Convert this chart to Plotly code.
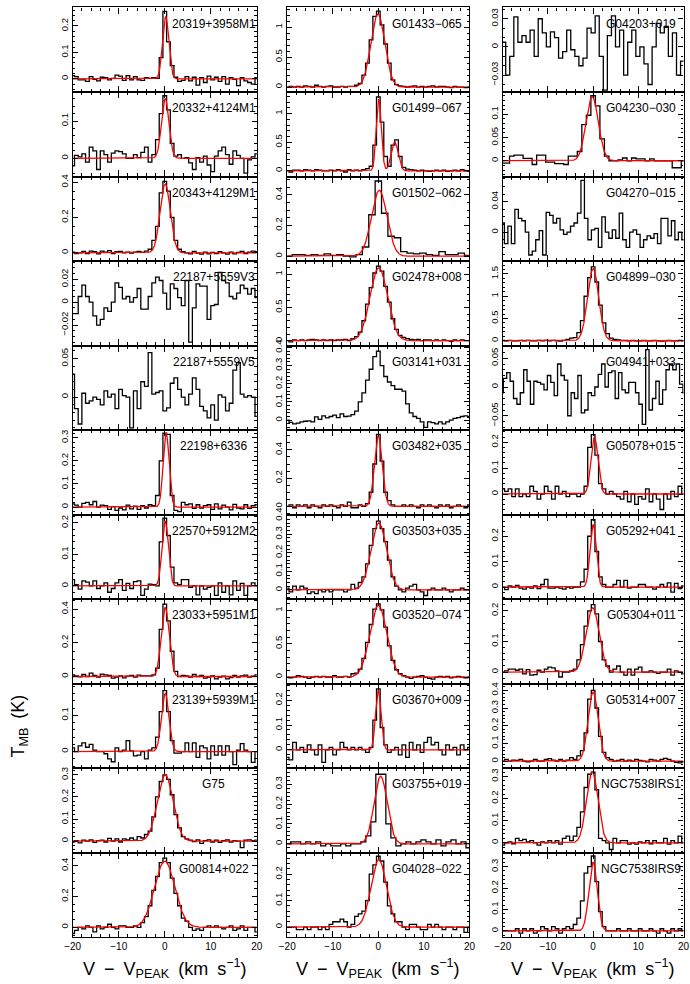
import numpy as np
import plotly.graph_objects as go

# ---------------- spectra (T_MB in K, channels centred on V - V_peak = 0) ----------------
# 0.8 km/s channels unless stated otherwise in PANELS

S_20319_3958M1 = [0.012, 0.008, -0.004, -0.004, -0.010, 0.008, -0.002, -0.008, 0.006, 0.004,
                  -0.004, 0.002, 0.014, 0.010, -0.006, 0.012, -0.004, 0.008, -0.004, -0.006,
                  0.004, 0.002, 0.004, 0.002, 0.080, 0.255, 0.140, 0.050, 0.006, -0.010, -0.006,
                  0.008, -0.008, 0.006, -0.024, 0.004, -0.014, 0.010, -0.004, 0.006, -0.010,
                  0.008, -0.020, 0.004, -0.002, -0.026, 0.004, -0.008, -0.014, -0.020, 0.004]
S_20332_4124M1 = [-0.020, 0.008, 0.004, 0.012, -0.010, 0.030, 0.020, -0.030, 0.020, 0.010,
                  -0.010, 0.014, 0.020, 0.018, 0.012, 0.000, 0.000, 0.010, 0.002, 0.016,
                  0.030, -0.010, 0.010, 0.050, 0.120, 0.168, 0.130, 0.040, 0.006, 0.010, 0.000,
                  0.002, -0.012, -0.030, 0.002, -0.010, 0.006, -0.018, -0.036, 0.006, 0.020,
                  0.030, 0.010, -0.016, 0.020, 0.008, 0.000, -0.040, -0.004, 0.004, 0.012]
S_20343_4129M1 = [0.004, -0.004, 0.000, 0.008, -0.004, 0.010, 0.006, -0.006, 0.010, 0.004,
                  0.012, -0.004, 0.006, 0.008, 0.000, 0.004, -0.002, 0.004, 0.008, 0.002,
                  0.010, 0.020, 0.070, 0.150, 0.340, 0.405, 0.350, 0.200, 0.070, 0.020, 0.006,
                  0.000, -0.006, 0.008, -0.002, -0.008, 0.004, -0.006, 0.002, -0.004, 0.006,
                  0.000, -0.008, 0.004, -0.006, 0.002, 0.008, -0.004, 0.004, 0.010, 0.006]
S_22187_5559V3 = [-0.010, -0.010, 0.005, 0.015, 0.005, 0.000, -0.012, -0.020, -0.015, -0.005,
                  -0.008, 0.000, 0.017, 0.013, 0.003, 0.005, 0.000, 0.004, 0.012, -0.006,
                  -0.006, 0.005, 0.017, 0.022, 0.019, 0.008, -0.006, 0.016, 0.012, 0.004, -0.003,
                  0.019, -0.035, -0.005, 0.016, 0.014, 0.014, -0.015, -0.003, -0.002, 0.026,
                  0.019, 0.017, 0.005, 0.003, 0.008, 0.015, 0.012, 0.007, 0.012, 0.004]
S_22187_5559V5 = [0.030, -0.015, -0.035, 0.005, -0.008, -0.005, 0.000, -0.003, -0.010, 0.008,
                  0.000, 0.004, -0.015, 0.010, 0.002, 0.000, -0.040, 0.008, -0.015, 0.020,
                  0.014, 0.058, 0.004, 0.006, 0.008, -0.018, -0.014, 0.018, 0.025, 0.010, 0.000,
                  -0.010, 0.004, 0.025, 0.010, -0.012, -0.018, -0.027, -0.010, -0.030, 0.003,
                  0.000, -0.018, -0.008, 0.035, 0.045, 0.004, 0.000, 0.002, 0.000, -0.025]
S_22198_6336 = [0.014, 0.008, 0.000, 0.016, 0.020, 0.010, 0.024, 0.000, 0.008, 0.006,
                -0.010, 0.002, -0.014, -0.004, -0.012, 0.008, -0.008, 0.004, -0.010, 0.006,
                -0.004, 0.010, 0.006, 0.050, 0.200, 0.320, 0.315, 0.050, -0.014, -0.020, 0.020,
                0.010, 0.014, -0.006, 0.010, -0.004, 0.006, 0.010, -0.010, 0.014, -0.008,
                0.008, 0.000, -0.012, 0.012, -0.004, -0.008, 0.010, -0.006, 0.006, 0.010]
S_22570_5912M2 = [0.020, 0.004, -0.010, 0.016, 0.012, 0.000, 0.016, -0.008, 0.000, 0.010,
                  -0.020, -0.008, 0.010, 0.020, -0.014, 0.008, -0.008, 0.014, 0.016, -0.030,
                  -0.010, 0.006, 0.004, 0.000, 0.140, 0.215, 0.160, 0.060, 0.010, 0.004, 0.020,
                  0.020, -0.004, 0.000, -0.028, 0.000, -0.010, -0.004, 0.000, -0.030, 0.010,
                  -0.020, 0.000, -0.028, 0.016, -0.014, 0.008, -0.030, 0.000, 0.010, 0.000]
S_23033_5951M1 = [0.010, 0.004, -0.002, 0.012, 0.000, 0.020, 0.006, -0.004, 0.014, 0.010,
                  0.006, -0.010, -0.004, 0.004, -0.008, 0.002, 0.006, -0.004, 0.008, 0.004,
                  0.004, 0.004, 0.010, 0.050, 0.280, 0.430, 0.330, 0.150, 0.030, 0.000, 0.006,
                  0.004, -0.004, 0.012, 0.000, 0.006, -0.010, -0.004, 0.004, -0.014, -0.004,
                  0.002, -0.014, -0.006, 0.006, -0.004, 0.004, 0.008, -0.004, 0.002, 0.010]
S_23139_5939M1 = [0.010, 0.000, 0.016, 0.024, 0.012, 0.020, 0.004, 0.000, 0.000, -0.006,
                  -0.020, -0.028, 0.010, 0.000, 0.004, 0.030, 0.002, -0.012, -0.010, 0.000,
                  -0.020, 0.004, 0.010, 0.040, 0.110, 0.168, 0.110, 0.030, -0.004, -0.004, 0.000,
                  0.024, 0.000, 0.024, -0.016, 0.016, 0.010, -0.020, 0.016, -0.010, 0.016,
                  -0.010, 0.016, 0.000, -0.036, 0.004, 0.022, 0.004, 0.000, -0.030, 0.000]
S_G75 = [-0.004, 0.002, -0.008, 0.004, 0.000, 0.006, -0.006, 0.002, 0.004, -0.004,
         0.012, 0.000, 0.010, -0.004, 0.010, 0.006, 0.014, 0.004, 0.020, 0.014,
         0.030, 0.045, 0.110, 0.200, 0.270, 0.300, 0.280, 0.210, 0.120, 0.060, 0.020,
         0.010, 0.004, -0.002, 0.006, -0.010, 0.002, 0.006, -0.004, 0.004, -0.006,
         0.002, 0.006, -0.004, 0.002, 0.000, -0.030, 0.004, 0.006, 0.002, 0.004]
S_G00814_022 = [-0.040, -0.020, 0.000, -0.010, 0.010, 0.000, -0.030, 0.010, -0.010, 0.000,
                0.020, 0.000, -0.010, 0.010, 0.010, 0.000, 0.000, 0.010, 0.000, 0.030,
                0.070, 0.140, 0.240, 0.330, 0.420, 0.450, 0.420, 0.320, 0.220, 0.140, 0.060,
                0.040, 0.000, -0.020, -0.010, -0.020, 0.000, 0.010, 0.000, 0.010, 0.000,
                -0.010, 0.000, 0.010, -0.020, -0.010, 0.010, -0.020, 0.000, 0.000, -0.030]

S_G01433_065 = [0.000, 0.010, 0.000, 0.010, 0.000, 0.020, 0.010, 0.000, 0.030, 0.010,
                0.000, 0.010, 0.020, 0.000, 0.000, 0.010, 0.000, 0.010, 0.010, 0.030,
                0.060, 0.200, 0.400, 0.790, 1.180, 1.270, 1.040, 0.720, 0.400, 0.120, 0.040,
                0.020, 0.010, 0.000, 0.010, 0.020, 0.000, 0.010, 0.000, 0.010, 0.020,
                0.000, 0.010, 0.010, 0.000, -0.010, 0.010, 0.000, 0.000, -0.010, 0.000]
S_G01499_067 = [0.000, -0.020, 0.010, 0.010, 0.000, 0.020, 0.010, 0.000, 0.020, 0.010,
                0.000, 0.000, 0.010, 0.000, 0.020, 0.000, -0.020, 0.020, 0.000, 0.010,
                0.000, 0.020, 0.040, 0.080, 0.450, 1.290, 0.850, 0.250, 0.080, 0.450, 0.540,
                0.250, 0.060, 0.030, 0.020, 0.010, 0.000, 0.010, 0.000, -0.010, 0.000,
                0.010, 0.000, 0.010, -0.010, 0.000, 0.010, 0.000, 0.020, 0.000, -0.010]
# 1.4 km/s channels
S_G01502_062 = [0.000, 0.010, 0.010, 0.005, 0.010, 0.005, 0.015, 0.005, 0.010, 0.000,
                -0.005, 0.010, 0.060, 0.270, 0.490, 0.280, 0.130, 0.120, 0.030, 0.020,
                0.015, 0.020, 0.010, 0.005, 0.030, 0.010, 0.010, 0.020, 0.005]
S_G02478_008 = [0.000, -0.020, 0.010, 0.000, 0.010, 0.000, 0.010, 0.020, 0.010, 0.000,
                0.010, 0.000, 0.010, 0.000, 0.010, 0.010, 0.020, 0.000, 0.030, 0.060,
                0.130, 0.300, 0.550, 0.800, 1.020, 1.125, 1.050, 0.820, 0.580, 0.330, 0.170,
                0.080, 0.050, 0.030, 0.020, 0.010, 0.020, 0.000, 0.010, 0.010, 0.000,
                0.010, 0.000, 0.010, 0.000, -0.010, 0.010, 0.000, 0.010, 0.000, 0.000]
S_G03141_031 = [0.000, -0.012, -0.020, -0.016, -0.010, -0.006, -0.004, -0.010, 0.018, 0.004,
                0.024, 0.012, 0.020, 0.028, 0.014, 0.034, 0.020, 0.022, 0.030, 0.050,
                0.100, 0.150, 0.220, 0.280, 0.350, 0.380, 0.300, 0.240, 0.210, 0.190, 0.170,
                0.170, 0.160, 0.090, 0.040, 0.020, 0.010, -0.010, -0.040, -0.010, -0.014,
                -0.020, -0.010, -0.020, -0.010, 0.000, 0.010, 0.014, 0.020, 0.024, 0.016]
S_G03482_035 = [0.000, 0.010, -0.010, 0.010, 0.000, 0.010, -0.010, 0.010, 0.000, -0.010,
                0.010, 0.000, 0.010, 0.000, -0.010, 0.010, 0.000, 0.030, -0.010, -0.010,
                0.010, 0.000, 0.020, 0.100, 0.300, 0.510, 0.320, 0.100, 0.040, 0.010, 0.000,
                0.000, 0.010, 0.000, 0.010, 0.000, -0.010, 0.010, 0.000, 0.010, 0.000,
                -0.010, 0.010, 0.000, 0.010, -0.010, 0.000, 0.010, 0.000, -0.010, 0.010]
S_G03503_035 = [0.010, -0.010, 0.020, 0.000, 0.020, 0.010, -0.020, -0.010, -0.020, 0.000,
                -0.010, 0.000, -0.010, 0.000, 0.000, 0.000, -0.010, 0.000, 0.030, 0.010,
                0.040, 0.070, 0.140, 0.240, 0.330, 0.370, 0.330, 0.260, 0.160, 0.070, 0.020,
                0.000, -0.010, 0.010, 0.020, 0.030, 0.000, -0.010, -0.030, 0.000, 0.010,
                0.000, 0.000, 0.010, 0.000, -0.010, 0.000, 0.000, 0.010, 0.000, 0.000]
S_G03520_074 = [0.000, -0.010, 0.000, 0.020, 0.010, 0.000, -0.020, 0.000, 0.010, 0.000,
                0.010, 0.000, 0.000, 0.020, 0.000, 0.000, 0.010, 0.000, 0.050, 0.060,
                0.120, 0.280, 0.520, 0.790, 1.020, 1.100, 1.010, 0.750, 0.470, 0.250, 0.110,
                0.050, 0.020, 0.000, -0.020, 0.000, 0.010, 0.020, 0.000, -0.020, -0.030,
                0.000, 0.010, 0.000, 0.010, -0.010, 0.000, 0.010, 0.000, -0.010, 0.000]
S_G03670_009 = [-0.030, -0.040, 0.030, 0.000, 0.010, -0.010, 0.020, 0.000, -0.020, 0.020,
                -0.050, 0.000, 0.010, -0.020, 0.000, 0.030, 0.010, 0.000, 0.010, 0.000,
                0.010, 0.000, -0.010, 0.010, 0.120, 0.245, 0.090, 0.020, -0.010, 0.000, 0.010,
                -0.020, 0.020, -0.030, 0.030, 0.000, 0.020, -0.010, 0.030, 0.050, 0.020,
                0.030, 0.000, -0.020, 0.020, 0.000, 0.010, -0.020, 0.020, 0.000, 0.010]
# 1.1 km/s channels
S_G03755_019 = [0.000, 0.010, 0.010, 0.000, 0.010, 0.000, 0.010, -0.010, 0.000, -0.010,
                -0.010, 0.000, -0.010, 0.000, 0.000, 0.010, 0.040, 0.110,
                0.350,
                0.350, 0.100, 0.030, -0.010, 0.000, 0.010, 0.000, 0.010,
                0.020, 0.010, 0.000, 0.020, -0.010, 0.010, 0.020, 0.000, 0.010, -0.020]
S_G04028_022 = [0.000, 0.000, 0.000, -0.010, -0.010, 0.000, -0.010, 0.000, 0.000, -0.010,
                0.000, -0.010, 0.010, 0.020, 0.020, 0.030, 0.020, 0.000, 0.010, 0.040,
                0.050, 0.060, 0.100, 0.200, 0.235, 0.268, 0.250, 0.170, 0.080, 0.050, 0.020,
                0.020, 0.000, -0.010, 0.010, 0.010, 0.000, -0.010, -0.010, 0.010, 0.000,
                0.010, 0.000, -0.010, 0.000, 0.000, -0.010, 0.000, 0.000, -0.020, 0.000]

# 0.9 km/s channels
S_G04203_019 = [0.005, -0.030, -0.010, 0.032, 0.005, 0.012, 0.005, 0.018, -0.010, 0.030,
                0.015, 0.000, 0.016, 0.010, -0.012, -0.005, 0.018, -0.003, -0.010, -0.020,
                -0.012, 0.020, 0.015, 0.033, -0.010, -0.046, 0.012, 0.033, 0.000, 0.018,
                -0.030, 0.005, 0.018, -0.010, 0.000, -0.018, -0.040, 0.000, 0.025, 0.015,
                0.022, -0.010, 0.015, -0.030, -0.015]
# 1.0 km/s channels
S_G04230_030 = [-0.005, -0.005, 0.010, 0.012, 0.012, 0.005, 0.005, -0.008, 0.012, 0.012,
                -0.003, -0.003, -0.006, -0.006, -0.008, 0.010, 0.010, 0.020, 0.078, 0.098,
                0.140,
                0.118, 0.047, 0.010, 0.000, 0.000, 0.002, 0.006, 0.000, 0.006, 0.004,
                0.004, 0.000, 0.004, 0.000, 0.000, 0.000, 0.000, -0.015, -0.015, 0.000]
# 0.77 km/s channels
S_G04270_015 = [0.012, -0.015, 0.008, -0.015, 0.030, 0.018, 0.015, 0.000, -0.030, -0.025,
                -0.010, 0.002, -0.030, 0.026, 0.022, 0.012, 0.018, 0.003, -0.003, 0.000,
                0.008, 0.012, 0.025, 0.068, 0.018, -0.010, 0.003, 0.005, -0.020, 0.020,
                0.000, -0.008, 0.003, -0.008, 0.025, -0.010, -0.020, 0.000, 0.003, -0.003,
                -0.020, -0.010, -0.005, -0.008, -0.002, -0.015, 0.018, 0.018, -0.005, 0.015,
                -0.010, 0.000, -0.010]
S_G04899_030 = [0.010, 0.000, 0.010, 0.000, 0.000, 0.010, 0.000, 0.010, 0.000, 0.000,
                0.010, 0.000, 0.010, 0.000, 0.010, 0.000, -0.010, 0.010, 0.030, 0.060,
                0.070, 0.180, 0.450, 1.000, 1.420, 1.660, 1.320, 0.800, 0.400, 0.160, 0.060,
                0.030, 0.020, 0.010, 0.010, 0.000, 0.010, 0.000, 0.000, 0.010, 0.000,
                0.000, 0.010, 0.000, -0.010, 0.000, 0.010, 0.000, 0.000, 0.010, 0.000]
# 0.75 km/s channels
S_G04941_033 = [-0.010, 0.015, 0.025, 0.010, -0.020, -0.030, -0.010, 0.030, 0.010, -0.030,
                0.010, 0.008, 0.005, -0.005, 0.020, 0.008, -0.015, 0.040, 0.020, 0.012,
                -0.050, -0.010, -0.020, 0.020, -0.045, -0.040, -0.010, -0.015, 0.000, 0.022,
                0.040, 0.000, 0.025, 0.028, -0.020, 0.025, -0.005, -0.010, 0.008, 0.008,
                -0.010, -0.030, -0.065, 0.065, -0.040, -0.020, 0.010, -0.030, -0.005, 0.030,
                0.040, 0.030, 0.040, 0.005, -0.010]
S_G05078_015 = [0.020, 0.010, 0.020, -0.010, 0.020, -0.010, 0.000, -0.010, 0.030, 0.010,
                -0.020, 0.000, 0.030, 0.010, -0.020, 0.030, 0.000, 0.010, -0.010, 0.000,
                0.000, -0.010, 0.000, 0.030, 0.180, 0.230, 0.150, 0.040, 0.020, 0.000, 0.010,
                0.000, -0.010, -0.020, 0.010, -0.030, 0.000, -0.040, -0.010, -0.020, 0.020,
                -0.030, 0.000, -0.020, -0.060, 0.000, -0.020, 0.010, -0.010, 0.030, 0.000]
S_G05292_041 = [0.000, -0.010, 0.004, 0.000, 0.006, -0.004, -0.008, 0.000, -0.004, 0.004,
                -0.006, 0.010, 0.030, -0.004, -0.004, 0.000, -0.004, -0.008, 0.000, -0.004,
                0.000, 0.000, 0.020, 0.070, 0.200, 0.265, 0.140, 0.040, 0.010, 0.000, 0.000,
                0.010, 0.026, 0.000, 0.026, -0.004, 0.000, 0.000, 0.010, 0.010, 0.000,
                0.000, -0.008, 0.000, 0.010, 0.000, 0.016, -0.020, 0.014, -0.006, 0.004]
S_G05304_011 = [0.000, 0.004, 0.010, 0.010, 0.006, 0.010, -0.006, 0.008, -0.010, -0.008,
                0.006, 0.000, 0.010, 0.016, 0.014, 0.004, -0.016, 0.000, 0.000, 0.004,
                0.010, 0.040, 0.090, 0.150, 0.200, 0.220, 0.190, 0.100, 0.040, 0.020, 0.000,
                0.010, 0.020, 0.000, -0.010, 0.010, -0.010, 0.010, 0.016, 0.000, 0.000,
                0.004, 0.000, -0.004, 0.000, 0.000, 0.010, -0.010, 0.004, 0.000, -0.006]
S_G05314_007 = [0.000, 0.010, 0.000, 0.006, 0.004, 0.010, 0.000, -0.004, 0.000, 0.010,
                0.000, 0.000, 0.010, 0.014, 0.006, 0.000, 0.010, 0.000, 0.006, 0.020,
                0.010, 0.030, 0.060, 0.160, 0.350, 0.400, 0.300, 0.140, 0.050, 0.020, 0.010,
                0.000, 0.004, 0.010, 0.000, 0.006, 0.000, 0.010, 0.004, 0.000, -0.004,
                0.010, 0.006, 0.000, 0.010, 0.016, 0.010, 0.000, -0.006, -0.010, -0.004]
S_NGC7538IRS1 = [-0.010, 0.000, 0.004, -0.004, 0.020, 0.010, 0.016, 0.004, 0.010, 0.000,
                 -0.010, 0.004, 0.000, 0.010, 0.000, 0.010, -0.006, 0.020, 0.030, 0.010,
                 0.030, 0.070, 0.140, 0.250, 0.310, 0.320, 0.240, 0.020, 0.010, 0.000, -0.030,
                 0.020, 0.000, 0.010, 0.010, -0.006, 0.000, -0.006, 0.004, 0.000, 0.010,
                 -0.004, 0.010, 0.000, 0.000, 0.020, -0.006, 0.010, 0.000, 0.030, 0.000]
S_NGC7538IRS9 = [0.000, 0.000, 0.000, 0.000, 0.010, -0.010, 0.010, 0.000, 0.010, -0.010,
                 0.000, 0.020, 0.010, 0.000, 0.020, 0.010, -0.010, 0.010, 0.020, 0.010,
                 0.030, 0.060, 0.140, 0.270, 0.300, 0.350, 0.230, 0.090, 0.020, 0.000, 0.000,
                 0.000, 0.010, 0.000, 0.000, 0.010, 0.000, 0.000, 0.010, 0.000, 0.000,
                 0.010, 0.000, -0.010, 0.010, 0.000, -0.010, 0.010, 0.000, 0.010, 0.000]

# Gaussian fits: (amplitude K, centre km/s, FWHM km/s); None = no fit shown
FIT_20319_3958M1 = [(0.235, 0.2, 1.6)]
FIT_20332_4124M1 = [(0.160, 0.1, 1.9)]
FIT_20343_4129M1 = [(0.390, 0.1, 2.6)]
FIT_22198_6336 = [(0.320, 0.3, 1.5)]
FIT_22570_5912M2 = [(0.205, 0.1, 1.6)]
FIT_23033_5951M1 = [(0.410, 0.1, 2.0)]
FIT_23139_5939M1 = [(0.160, 0.1, 1.9)]
FIT_G75 = [(0.300, 0.1, 4.0)]
FIT_G00814_022 = [(0.430, 0.0, 5.2)]
FIT_G01433_065 = [(1.220, -0.1, 3.6)]
FIT_G01499_067 = [(1.250, 0.1, 1.3), (0.500, 3.6, 1.8)]
FIT_G01502_062 = [(0.430, 0.2, 4.0)]
FIT_G02478_008 = [(1.100, 0.1, 4.5)]
FIT_G03482_035 = [(0.500, 0.0, 2.0)]
FIT_G03503_035 = [(0.360, 0.1, 4.0)]
FIT_G03520_074 = [(1.080, 0.0, 4.4)]
FIT_G03670_009 = [(0.240, 0.0, 1.4)]
FIT_G03755_019 = [(0.340, 0.5, 3.4)]
FIT_G04028_022 = [(0.255, 0.1, 4.0)]
FIT_G04230_030 = [(0.138, -0.2, 3.2)]
FIT_G04899_030 = [(1.620, 0.0, 2.9)]
FIT_G05078_015 = [(0.220, 0.3, 1.8)]
FIT_G05292_041 = [(0.245, 0.0, 1.6)]
FIT_G05304_011 = [(0.210, -0.1, 3.4)]
FIT_G05314_007 = [(0.390, 0.0, 2.6)]
FIT_NGC7538IRS1 = [(0.320, -0.2, 3.0)]
FIT_NGC7538IRS9 = [(0.320, 0.0, 2.2)]

# (column, row, label, channel width, spectrum, fit, y-range, major y step, minor y step)
PANELS = [
    (0, 0, "20319+3958M1", 0.8, S_20319_3958M1, FIT_20319_3958M1, [-0.05, 0.27], 0.1, 0.02),
    (0, 1, "20332+4124M1", 0.8, S_20332_4124M1, FIT_20332_4124M1, [-0.049, 0.178], 0.1, 0.02),
    (0, 2, "20343+4129M1", 0.8, S_20343_4129M1, FIT_20343_4129M1, [-0.047, 0.432], 0.2, 0.05),
    (0, 3, "22187+5559V3", 0.8, S_22187_5559V3, None, [-0.038, 0.036], 0.02, 0.005),
    (0, 4, "22187+5559V5", 0.8, S_22187_5559V5, None, [-0.043, 0.067], 0.05, 0.01),
    (0, 5, "22198+6336", 0.8, S_22198_6336, FIT_22198_6336, [-0.033, 0.333], 0.1, 0.02),
    (0, 6, "22570+5912M2", 0.8, S_22570_5912M2, FIT_22570_5912M2, [-0.042, 0.226], 0.1, 0.02),
    (0, 7, "23033+5951M1", 0.8, S_23033_5951M1, FIT_23033_5951M1, [-0.043, 0.459], 0.2, 0.05),
    (0, 8, "23139+5939M1", 0.8, S_23139_5939M1, FIT_23139_5939M1, [-0.046, 0.187], 0.1, 0.02),
    (0, 9, "G75", 0.8, S_G75, FIT_G75, [-0.053, 0.33], 0.1, 0.02),
    (0, 10, "G00814+022", 0.8, S_G00814_022, FIT_G00814_022, [-0.065, 0.484], 0.2, 0.05),
    (1, 0, "G01433\u2212065", 0.8, S_G01433_065, FIT_G01433_065, [-0.083, 1.33], 0.5, 0.1),
    (1, 1, "G01499\u2212067", 0.8, S_G01499_067, FIT_G01499_067, [-0.1, 1.376], 0.5, 0.1),
    (1, 2, "G01502\u2212062", 1.4, S_G01502_062, FIT_G01502_062, [-0.032, 0.519], 0.2, 0.05),
    (1, 3, "G02478+008", 0.8, S_G02478_008, FIT_G02478_008, [-0.075, 1.2], 0.5, 0.1),
    (1, 4, "G03141+031", 0.8, S_G03141_031, None, [-0.055, 0.41], 0.1, 0.02),
    (1, 5, "G03482+035", 0.8, S_G03482_035, FIT_G03482_035, [-0.059, 0.54], 0.2, 0.05),
    (1, 6, "G03503+035", 0.8, S_G03503_035, FIT_G03503_035, [-0.05, 0.405], 0.1, 0.02),
    (1, 7, "G03520\u2212074", 0.8, S_G03520_074, FIT_G03520_074, [-0.1, 1.17], 0.5, 0.1),
    (1, 8, "G03670+009", 0.8, S_G03670_009, FIT_G03670_009, [-0.074, 0.266], 0.1, 0.02),
    (1, 9, "G03755+019", 1.1, S_G03755_019, FIT_G03755_019, [-0.045, 0.38], 0.1, 0.02),
    (1, 10, "G04028\u2212022", 0.8, S_G04028_022, FIT_G04028_022, [-0.039, 0.281], 0.1, 0.02),
    (2, 0, "G04203+019", 0.9, S_G04203_019, None, [-0.048, 0.042], 0.03, 0.01),
    (2, 1, "G04230\u2212030", 1.0, S_G04230_030, FIT_G04230_030, [-0.034, 0.148], 0.05, 0.01),
    (2, 2, "G04270\u2212015", 0.77, S_G04270_015, None, [-0.038, 0.073], 0.04, 0.01),
    (2, 3, "G04899\u2212030", 0.8, S_G04899_030, FIT_G04899_030, [-0.11, 1.79], 0.5, 0.1),
    (2, 4, "G04941+033", 0.75, S_G04941_033, None, [-0.075, 0.072], 0.05, 0.01),
    (2, 5, "G05078+015", 0.8, S_G05078_015, FIT_G05078_015, [-0.08, 0.247], 0.1, 0.02),
    (2, 6, "G05292+041", 0.8, S_G05292_041, FIT_G05292_041, [-0.048, 0.285], 0.1, 0.02),
    (2, 7, "G05304+011", 0.8, S_G05304_011, FIT_G05304_011, [-0.038, 0.238], 0.1, 0.02),
    (2, 8, "G05314+007", 0.8, S_G05314_007, FIT_G05314_007, [-0.04, 0.437], 0.1, 0.02),
    (2, 9, "NGC7538IRS1", 0.8, S_NGC7538IRS1, FIT_NGC7538IRS1, [-0.045, 0.337], 0.1, 0.02),
    (2, 10, "NGC7538IRS9", 0.8, S_NGC7538IRS9, FIT_NGC7538IRS9, [-0.03, 0.365], 0.1, 0.02),
]

V_RANGE = [-20, 20]
X_TICKS = [-20, -10, 0, 10, 20]

# ---------------- layout geometry (pixels) ----------------
W, H = 690, 984
COL_X = [(66, 254), (285, 471), (505, 689.5)]
TOP, BOTTOM, NROW = 0.5, 937, 11
ROW_H = (BOTTOM - TOP) / NROW
FONT = "Liberation Sans, Arial, Helvetica, sans-serif"
LW = 1.3

fig = go.Figure()
layout = dict(
    width=W, height=H, margin=dict(l=0, r=0, t=0, b=0),
    paper_bgcolor="white", plot_bgcolor="white", showlegend=False,
    font=dict(family=FONT, color="black"),
)
annotations = []
v_fit = np.linspace(V_RANGE[0], V_RANGE[1], 801)

for k, (col, row, label, dv, spec, fit, yr, ystep, yminor) in enumerate(PANELS):
    n = k + 1
    sfx = "" if n == 1 else str(n)
    xa, ya = "x" + sfx, "y" + sfx

    spec = np.asarray(spec)
    vel = (np.arange(len(spec)) - len(spec) // 2) * dv
    # pad half a channel each side so the outer steps are drawn full width
    xs = np.concatenate([[vel[0] - dv / 2], vel, [vel[-1] + dv / 2]])
    ys = np.concatenate([[spec[0]], spec, [spec[-1]]])
    fig.add_trace(go.Scatter(x=xs, y=ys, mode="lines", line_shape="hvh",
                             line=dict(color="black", width=LW),
                             xaxis=xa, yaxis=ya, hoverinfo="skip"))
    if fit:
        model = np.zeros_like(v_fit)
        for amp, cen, fwhm in fit:
            model += amp * np.exp(-4 * np.log(2) * (v_fit - cen) ** 2 / fwhm ** 2)
        fig.add_trace(go.Scatter(x=v_fit, y=model, mode="lines",
                                 line=dict(color="#ff0000", width=LW),
                                 xaxis=xa, yaxis=ya, hoverinfo="skip"))

    x0, x1 = COL_X[col]
    y_top = TOP + row * ROW_H
    y_bot = TOP + (row + 1) * ROW_H
    last_row = row == NROW - 1

    layout["xaxis" + sfx] = dict(
        domain=[x0 / W, x1 / W], anchor=ya, range=V_RANGE,
        tickmode="array", tickvals=X_TICKS, showticklabels=last_row,
        ticks="inside", ticklen=6, tickwidth=1, tickcolor="black",
        minor=dict(tickmode="linear", tick0=0, dtick=2, ticks="inside",
                   ticklen=3, tickwidth=1, tickcolor="black"),
        showline=True, linecolor="black", linewidth=LW, mirror="allticks",
        showgrid=False, zeroline=False,
        tickfont=dict(size=10, family=FONT, color="black"),
    )
    layout["yaxis" + sfx] = dict(
        domain=[1 - y_bot / H, 1 - y_top / H], anchor=xa, range=yr,
        tickmode="linear", tick0=0, dtick=ystep,
        ticks="inside", ticklen=5, tickwidth=1, tickcolor="black",
        minor=dict(tickmode="linear", tick0=0, dtick=yminor, ticks="inside",
                   ticklen=2.5, tickwidth=1, tickcolor="black"),
        showline=True, linecolor="black", linewidth=LW, mirror="allticks",
        showgrid=False, zeroline=False, tickangle=-90,
        tickfont=dict(size=9.5, family=FONT, color="black"),
    )
    annotations.append(dict(
        text=label, xref=xa + " domain", yref=ya + " domain",
        x=0.765, y=0.81, xanchor="center", yanchor="middle", showarrow=False,
        font=dict(size=12, family=FONT, color="black"),
    ))

# axis titles
SP = "\u2002"
for x0, x1 in COL_X:
    annotations.append(dict(
        text=f"V{SP}\u2212{SP}V<sub>PEAK</sub>{SP}(km{SP}s<sup>\u22121</sup>)",
        xref="paper", yref="paper", x=(x0 + x1) / 2 / W, y=1 - 968 / H,
        xanchor="center", yanchor="middle", showarrow=False,
        font=dict(size=18, family=FONT, color="black"),
    ))
annotations.append(dict(
    text=f"T<sub>MB</sub>{SP}(K)", xref="paper", yref="paper",
    x=12 / W, y=1 - 724 / H, xanchor="center", yanchor="middle",
    textangle=-90, showarrow=False,
    font=dict(size=18, family=FONT, color="black"),
))

layout["annotations"] = annotations
fig.update_layout(**layout)
fig.write_html(
    "out.html",
    config={"displayModeBar": False},
    post_script="document.body.style.margin='0px';document.body.style.overflow='hidden';",
)
